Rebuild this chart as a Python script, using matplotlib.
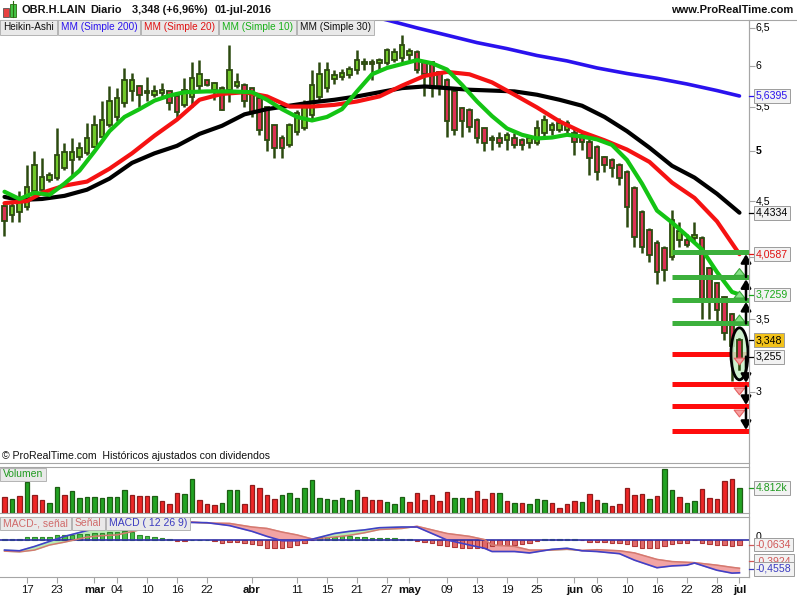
import numpy as np
import matplotlib
matplotlib.use("Agg")
import matplotlib.pyplot as plt
from matplotlib.patches import Rectangle, Ellipse
from matplotlib.lines import Line2D
from matplotlib.ticker import FixedLocator, NullLocator, NullFormatter
import matplotlib.transforms as mtransforms

plt.rcParams['font.family'] = ['Liberation Sans', 'DejaVu Sans']

# ---------------- data ----------------
# trading-day index: 0 = 17-feb-2016 ... 95 = 01-jul-2016
day_index = list(range(-3, 96))

ha_open = [4.45,4.37,4.40,4.44,4.60,4.61,4.71,4.73,4.83,4.91,
           4.94,4.98,5.05,5.16,5.29,5.38,5.54,5.68,5.74,5.69,
           5.64,5.66,5.68,5.62,5.52,5.61,5.74,5.82,5.70,5.72,
           5.70,5.74,5.76,5.72,5.60,5.49,5.29,5.15,5.07,5.21,
           5.26,5.40,5.61,5.72,5.83,5.86,5.88,5.94,6.02,6.05,
           6.03,6.03,6.07,6.10,6.13,6.18,6.05,6.04,5.92,5.82,
           5.68,5.48,5.46,5.35,5.25,5.12,5.15,5.12,5.15,5.12,
           5.09,5.09,5.20,5.23,5.23,5.23,5.20,5.18,5.10,5.05,
           4.94,4.91,4.86,4.79,4.63,4.40,4.23,4.12,4.07,4.00,
           4.14,4.14,4.16,4.16,3.90,3.78,3.67,3.54,3.35]
ha_high = [4.49,4.49,4.60,4.86,5.00,4.93,4.79,5.25,5.09,5.15,
           5.10,5.31,5.40,5.56,5.74,5.72,5.97,5.91,5.76,5.86,
           5.76,5.78,5.68,5.64,5.84,6.05,6.07,5.82,5.80,5.75,
           6.27,5.91,5.78,5.72,5.60,5.49,5.29,5.18,5.31,5.46,
           5.58,5.94,6.05,6.05,5.95,5.96,6.00,6.20,6.10,6.08,
           6.10,6.23,6.23,6.40,6.23,6.20,6.07,6.05,5.93,5.84,
           5.70,5.49,5.48,5.37,5.26,5.18,5.21,5.21,5.20,5.15,
           5.18,5.35,5.40,5.32,5.37,5.35,5.26,5.22,5.13,5.07,
           4.95,4.93,4.88,4.81,4.65,4.42,4.25,4.14,4.09,4.42,
           4.30,4.20,4.30,4.18,3.91,3.79,3.68,3.55,3.36]
ha_low = [4.18,4.30,4.30,4.42,4.54,4.59,4.69,4.71,4.81,4.74,
          4.91,4.96,5.05,5.16,5.27,5.33,5.50,5.56,5.50,5.56,
          5.61,5.61,5.46,5.36,5.50,5.50,5.70,5.74,5.58,5.46,
          5.55,5.72,5.50,5.38,5.18,5.00,4.93,4.93,5.05,5.18,
          5.23,5.35,5.58,5.67,5.77,5.82,5.85,5.90,5.95,5.82,
          5.94,6.01,6.05,6.05,6.07,5.91,5.62,5.61,5.64,5.16,
          5.18,5.16,5.21,5.09,5.00,5.02,5.05,5.02,5.04,5.02,
          5.04,5.07,5.16,5.18,5.21,5.18,4.96,5.02,4.76,4.71,
          4.79,4.74,4.66,4.26,4.08,4.03,3.95,3.77,3.80,3.97,
          4.08,4.08,4.12,3.50,3.50,3.48,3.35,3.07,3.15]
ha_close = [4.31,4.45,4.49,4.64,4.86,4.74,4.76,4.96,4.99,4.99,
            5.04,5.14,5.29,5.35,5.56,5.60,5.82,5.82,5.64,5.66,
            5.68,5.70,5.54,5.44,5.70,5.84,5.90,5.76,5.78,5.46,
            5.94,5.80,5.56,5.42,5.23,5.12,5.04,5.04,5.29,5.42,
            5.52,5.76,5.90,5.95,5.88,5.91,5.96,6.07,6.05,6.02,
            6.07,6.20,6.18,6.27,6.19,5.94,5.90,5.72,5.74,5.33,
            5.23,5.33,5.27,5.14,5.09,5.15,5.09,5.18,5.07,5.07,
            5.14,5.25,5.35,5.29,5.31,5.31,5.10,5.10,4.93,4.79,
            4.86,4.83,4.73,4.44,4.17,4.08,4.01,3.87,3.89,4.32,
            4.22,4.10,4.19,3.64,3.64,3.57,3.40,3.31,3.21]

ma10_idx = [-3,-1,1,3,5,7,9,11,13,15,17,19,21,24,27,30,32,34,36,38,40,42,44,46,48,
            50,52,54,56,58,60,62,64,66,68,70,72,74,76,78,80,82,84,86,88,90,92,94,95]
ma10_val = [4.59,4.52,4.58,4.56,4.67,4.80,5.00,5.22,5.38,5.47,5.57,5.63,5.67,5.68,5.68,
            5.67,5.58,5.47,5.38,5.34,5.38,5.47,5.68,5.89,5.97,6.02,6.07,6.03,5.95,5.76,
            5.56,5.39,5.25,5.18,5.14,5.15,5.18,5.16,5.13,5.07,4.91,4.67,4.41,4.30,4.18,
            4.06,3.87,3.71,3.69]
ma20_idx = [-3,0,2,5,8,11,14,17,20,23,26,29,32,35,38,41,44,47,50,53,56,59,62,65,68,
            71,74,77,80,83,86,89,92,95]
ma20_val = [4.48,4.50,4.58,4.65,4.69,4.82,4.98,5.17,5.35,5.58,5.65,5.67,5.62,5.50,5.50,
            5.52,5.56,5.62,5.75,5.87,5.92,5.89,5.79,5.64,5.49,5.33,5.21,5.12,5.02,4.89,
            4.68,4.53,4.31,4.02]
ma30_idx = [-3,-1,2,5,8,11,14,17,20,23,26,29,32,35,38,41,44,47,50,53,56,59,62,65,68,
            71,74,77,80,83,86,89,92,95]
ma30_val = [4.54,4.51,4.52,4.55,4.61,4.72,4.88,4.98,5.06,5.19,5.28,5.41,5.47,5.51,5.55,
            5.58,5.62,5.67,5.72,5.74,5.72,5.70,5.69,5.68,5.64,5.58,5.51,5.38,5.22,5.04,
            4.85,4.73,4.57,4.39]
ma200_idx = [40,44,48,52,56,60,64,68,72,76,80,84,88,92,95]
ma200_val = [6.83,6.71,6.61,6.50,6.40,6.30,6.22,6.13,6.06,5.97,5.90,5.84,5.77,5.69,5.625]

green_levels = [4.04, 3.83, 3.65, 3.47]
red_levels = [3.25, 3.05, 2.91, 2.76]
levels_start = 85.95

volume_k = [3.02,2.64,3.27,5.91,3.47,2.44,1.87,4.95,3.47,4.18,
            2.83,3.02,3.02,2.89,3.02,3.02,4.37,3.47,3.27,3.27,
            3.27,2.31,1.73,3.79,3.66,6.49,2.44,1.73,1.54,1.98,
            4.37,4.37,1.73,5.39,4.75,3.47,2.64,3.47,3.79,2.89,
            4.75,6.29,2.83,2.64,2.50,2.83,2.44,4.37,3.14,2.44,
            2.44,2.06,1.73,3.02,2.18,3.79,2.50,3.47,2.31,3.98,
            2.83,2.83,2.83,4.24,2.64,3.91,3.91,2.31,1.93,1.93,
            1.73,2.64,2.50,1.98,0.90,1.73,2.31,2.12,3.66,2.50,
            1.98,1.35,1.73,4.75,3.47,3.66,2.64,3.27,8.41,4.43,
            3.02,1.87,2.31,4.56,2.83,2.64,6.16,6.54,4.812]
volume_up = [0,1,0,1,0,0,1,1,0,1,
             1,1,1,1,1,1,1,0,0,0,
             1,0,0,0,1,1,0,0,0,1,
             1,1,0,0,0,0,0,1,1,1,
             1,1,1,1,1,1,1,1,0,0,
             0,1,1,1,0,0,0,0,0,0,
             1,1,0,0,0,0,1,0,1,0,
             1,1,1,0,0,0,0,1,0,0,
             1,0,0,0,0,0,1,0,1,1,
             0,1,1,0,0,0,0,0,1]

macd_hist = [0.014,0.014,0.014,0.042,0.046,0.046,0.046,0.070,0.074,0.074,
             0.078,0.088,0.093,0.102,0.111,0.116,0.125,0.111,0.074,0.051,
             0.037,0.024,0.014,-0.009,-0.009,0.002,0.002,0.005,-0.009,-0.037,
             -0.027,-0.027,-0.037,-0.056,-0.070,-0.107,-0.116,-0.116,-0.102,-0.074,
             -0.046,-0.005,0.037,0.042,0.046,0.051,0.051,0.046,0.037,0.027,
             0.024,0.024,0.027,0.020,0.015,-0.010,-0.025,-0.045,-0.070,-0.090,
             -0.095,-0.105,-0.115,-0.115,-0.115,-0.085,-0.070,-0.070,-0.070,-0.055,
             -0.040,-0.020,0.010,0.015,0.015,0.015,0.010,-0.005,-0.025,-0.025,
             -0.025,-0.040,-0.040,-0.055,-0.090,-0.105,-0.115,-0.115,-0.090,-0.055,
             -0.040,-0.040,-0.005,-0.040,-0.055,-0.070,-0.075,-0.080,-0.0634]
macd_idx = [-3,-1,1,3,5,8,10,12,15,18,21,24,27,30,32,34,36,38,41,43,45,47,50,52,54,
            56,59,61,62,65,67,70,72,74,76,79,81,84,86,88,89,92,94,95]
macd_line = [-0.14,-0.15,-0.09,-0.02,0.05,0.13,0.17,0.19,0.22,0.24,0.245,0.24,0.20,0.12,
             0.05,-0.01,-0.01,0.01,0.09,0.12,0.14,0.17,0.18,0.18,0.09,0.0,-0.07,-0.115,
             -0.16,-0.16,-0.18,-0.13,-0.115,-0.15,-0.16,-0.19,-0.28,-0.385,-0.36,-0.35,
             -0.32,-0.42,-0.46,-0.4558]
macd_signal = [-0.155,-0.165,-0.14,-0.07,-0.03,0.04,0.06,0.07,0.14,0.215,0.255,0.235,0.23,
               0.18,0.16,0.11,0.07,0.015,0.04,0.065,0.10,0.145,0.16,0.19,0.14,0.09,0.05,
               0.005,-0.07,-0.09,-0.14,-0.14,-0.13,-0.145,-0.135,-0.15,-0.18,-0.27,-0.30,
               -0.31,-0.315,-0.35,-0.38,-0.3924]

date_tick_idx = [0,4,9,12,16,20,24,30,36,40,44,48,51,56,60,64,68,73,76,80,84,88,92,95]
date_tick_lbl = ['17','23','mar','04','10','16','22','abr','11','15','21','27','may',
                 '09','13','19','25','jun','06','10','16','22','28','jul']
month_names = ['mar','abr','may','jun','jul']

price_ticks = [3, 3.5, 4, 4.5, 5, 5.5, 6, 6.5]
last_close = 3.348
last_change_pct = 6.96

# ---------------- figure ----------------
W, H, DPI = 797, 596, 100
fig = plt.figure(figsize=(W / DPI, H / DPI), dpi=DPI)
fig.patch.set_facecolor('white')

def fx(x):
    return x / W

def fy(y):
    return 1 - y / H

GRAY = '#a6a6a6'
AXR = 749
XMIN, XMAX = -3.6, 96.27

ax = fig.add_axes([0, fy(463), fx(AXR), (463 - 20) / H])
axv = fig.add_axes([0, fy(513), fx(AXR), (513 - 467) / H])
axm = fig.add_axes([0, fy(577), fx(AXR), (577 - 517) / H])

for a in (ax, axv, axm):
    a.set_xlim(XMIN, XMAX)
    a.set_facecolor('white')
    a.spines['left'].set_visible(False)
    for s in ('right', 'bottom', 'top'):
        a.spines[s].set_color(GRAY)
        a.spines[s].set_linewidth(0.8)
    a.set_xticks([])
    a.tick_params(axis='y', which='both', left=False, right=False,
                  labelleft=False, labelright=False)
ax.spines['top'].set_visible(False)

# ---- price panel ----
ax.set_yscale('log')
ax.set_ylim(2.58, 6.61)
ax.yaxis.set_major_locator(FixedLocator(price_ticks))
ax.yaxis.set_minor_locator(NullLocator())
ax.yaxis.set_major_formatter(NullFormatter())
ax.yaxis.set_minor_formatter(NullFormatter())
ax.tick_params(axis='y', which='major', right=True, direction='out', length=4,
               color=GRAY, width=0.8)

WICK = '#2c4a10'
UPC = '#72c92a'
DNC = '#dc3154'
bw = 0.66
for i, o, h, l, c in zip(day_index, ha_open, ha_high, ha_low, ha_close):
    ax.plot([i, i], [l, h], color=WICK, lw=1.8, zorder=2, solid_capstyle='butt')
    lo, hi = min(o, c), max(o, c)
    ax.add_patch(Rectangle((i - bw / 2, lo), bw, max(hi - lo, 0.004),
                           facecolor=UPC if c >= o else DNC, edgecolor=WICK,
                           lw=1.3, zorder=3))

ax.plot(ma200_idx, ma200_val, color='#2a12ee', lw=2.6, zorder=4, solid_capstyle='round')
ax.plot(ma30_idx, ma30_val, color='black', lw=3.0, zorder=4, solid_capstyle='round')
ax.plot(ma20_idx, ma20_val, color='#f51212', lw=3.0, zorder=4, solid_capstyle='round')
ax.plot(ma10_idx, ma10_val, color='#14c414', lw=3.0, zorder=4, solid_capstyle='round')

for lv in green_levels:
    ax.plot([levels_start, XMAX], [lv, lv], color='#3cb03c', lw=3.6, zorder=5,
            solid_capstyle='butt')
for lv in red_levels:
    ax.plot([levels_start, XMAX], [lv, lv], color='#ff0c0c', lw=3.6, zorder=5,
            solid_capstyle='butt')

# highlight ellipse around the last candle
last_i = day_index[-1]
mid = np.sqrt(ha_high[-1] * ha_low[-1])
ell_tr = fig.dpi_scale_trans + mtransforms.ScaledTranslation(last_i, mid, ax.transData)
ax.add_patch(Ellipse((0, 0), 0.17, 0.52, transform=ell_tr, facecolor='#c6eec6',
                     alpha=0.85, edgecolor='none', zorder=6))
ax.add_patch(Ellipse((0, 0), 0.17, 0.52, transform=ell_tr, facecolor='none',
                     edgecolor='black', lw=2.0, zorder=8))
o, h, l, c = ha_open[-1], ha_high[-1], ha_low[-1], ha_close[-1]
ax.plot([last_i, last_i], [l, h], color=WICK, lw=1.8, zorder=7)
ax.add_patch(Rectangle((last_i - bw / 2, min(o, c)), bw, abs(c - o),
                       facecolor=UPC if c >= o else DNC, edgecolor=WICK, lw=1.3, zorder=7))

# small signal arrows
for lv in green_levels[1:]:
    ax.annotate('', xy=(last_i, lv * 1.024), xytext=(last_i, lv * 1.003),
                arrowprops=dict(arrowstyle='simple,head_length=0.7,head_width=1.1,tail_width=0.45',
                                fc='#86e486', ec='#3aa83a', lw=0.8, mutation_scale=7),
                zorder=9)
for lv in red_levels[:3]:
    ax.annotate('', xy=(last_i, lv * 0.972), xytext=(last_i, lv * 0.993),
                arrowprops=dict(arrowstyle='simple,head_length=0.7,head_width=1.1,tail_width=0.45',
                                fc='#f6a0a0', ec='#e46060', lw=0.8, mutation_scale=7),
                zorder=9)
arr_x = 95.87
for a_lv, b_lv in zip(green_levels[1:], green_levels[:-1]):
    ax.annotate('', xy=(arr_x, b_lv * 0.995), xytext=(arr_x, a_lv * 1.0),
                arrowprops=dict(arrowstyle='-|>,head_length=0.5,head_width=0.3',
                                color='black', lw=1.8, mutation_scale=10, shrinkA=0, shrinkB=0),
                zorder=9)
for a_lv, b_lv in zip(red_levels[:-1], red_levels[1:]):
    ax.annotate('', xy=(arr_x, b_lv * 1.003), xytext=(arr_x, a_lv * 0.995),
                arrowprops=dict(arrowstyle='-|>,head_length=0.5,head_width=0.3',
                                color='black', lw=1.8, mutation_scale=10, shrinkA=0, shrinkB=0),
                zorder=9)

# ---- volume panel ----
axv.set_ylim(0, 8.86)
axv.bar(day_index, volume_k, width=0.64,
        color=['#22a322' if u else '#ee2626' for u in volume_up],
        edgecolor=['#1d5e14' if u else '#8e1c1c' for u in volume_up], linewidth=0.9,
        zorder=2)

# ---- MACD panel ----
axm.set_ylim(-0.514, 0.319)
axm.bar(day_index, macd_hist, width=0.64,
        color=['#48c048' if v >= 0 else '#e06a6a' for v in macd_hist],
        edgecolor=['#2d8a2d' if v >= 0 else '#b03838' for v in macd_hist],
        linewidth=0.8, zorder=2)
mx = np.array(macd_idx, dtype=float)
ml = np.array(macd_line)
ms = np.array(macd_signal)
axm.fill_between(mx, ml, ms, where=ml >= ms, interpolate=True, color='#b9ecb4', zorder=1)
axm.fill_between(mx, ml, ms, where=ml < ms, interpolate=True, color='#f2a4a4', zorder=1)
axm.axhline(0, color='#3030a8', lw=1.2, zorder=3)
axm.plot(mx, ms, color='#d47a70', lw=1.1, zorder=4)
axm.plot(mx, ml, color='#4040c8', lw=1.2, zorder=4)

axm.set_xticks(date_tick_idx)
axm.tick_params(axis='x', direction='out', length=4, color=GRAY, width=0.8,
                labelbottom=False)
xtr = mtransforms.blended_transform_factory(axm.transData, fig.transFigure)
for xi, lb in zip(date_tick_idx, date_tick_lbl):
    fig.text(xi, fy(590), lb, transform=xtr, ha='center', va='center', fontsize=8.2,
             fontweight='bold' if lb in month_names else 'normal', color='#111111')

# ---- frame lines ----
fig.add_artist(Line2D([0, 1], [fy(19.5), fy(19.5)], transform=fig.transFigure,
                      color=GRAY, lw=0.8))
fig.add_artist(Line2D([fx(AXR), fx(AXR)], [fy(20), fy(577)], transform=fig.transFigure,
                      color=GRAY, lw=0.8))

# ---- right-hand labels ----
def right_text(axis, val, txt, color='black', box=None, weight='normal', dy=0, tick=True):
    tr = mtransforms.blended_transform_factory(fig.transFigure, axis.transData)
    tr = mtransforms.offset_copy(tr, fig=fig, x=0, y=dy, units='dots')
    kw = {}
    if box is not None:
        kw['bbox'] = dict(boxstyle='square,pad=0.18', fc=box, ec='#9c9c9c', lw=0.7)
    fig.text(fx(756), val, txt, transform=tr, ha='left', va='center', fontsize=7.6,
             color=color, fontweight=weight, **kw)
    if tick and box is not None:
        fig.add_artist(Line2D([fx(AXR), fx(754)], [val, val], transform=tr, color=color,
                              lw=0.9))

def comma(v):
    return ('%g' % v).replace('.', ',')

for t in price_ticks:
    right_text(ax, t, comma(t), weight='bold' if t == 5 else 'normal')
right_text(ax, ma200_val[-1], '5,6395', color='#2a12ee', box='#f2f2f2')
right_text(ax, ma30_val[-1], '4,4334', color='black', box='#f2f2f2')
right_text(ax, ma20_val[-1], '4,0587', color='#e01010', box='#f2f2f2')
right_text(ax, ma10_val[-1], '3,7259', color='#18a818', box='#f2f2f2')
right_text(ax, last_close, comma(last_close), color='black', box='#f2c21a')
right_text(ax, red_levels[0] * 0.995, '3,255', color='black', box='#f2f2f2')

right_text(axv, volume_k[-1], '4.812k', color='#1f9a1f', box='#f2f2f2')

right_text(axm, 0.0, '0', color='black', dy=3)
right_text(axm, macd_hist[-1], '-0,0634', color='#d05858', box='#f2f2f2')
right_text(axm, macd_signal[-1], '-0,3924', color='#d05858', box='#f2f2f2', dy=7)
right_text(axm, macd_line[-1], '-0,4558', color='#3a3ac0', box='#f2f2f2', dy=4)

# ---- header ----
fig.add_artist(Rectangle((fx(3), fy(17)), fx(6), 9 / H, transform=fig.transFigure,
                         fc='#e84040', ec='#555555', lw=0.6))
fig.add_artist(Rectangle((fx(10), fy(17)), fx(6), 13 / H, transform=fig.transFigure,
                         fc='#44c444', ec='#2c6a10', lw=0.6))
fig.add_artist(Line2D([fx(13), fx(13)], [fy(17), fy(1)], transform=fig.transFigure,
                      color='#2c6a10', lw=0.8))
hdr = [(22, 'OBR.H.LAIN'), (90, 'Diario'),
       (132, '%s (+%s%%)' % (comma(last_close), comma(last_change_pct))),
       (215, '01-jul-2016')]
for x, s in hdr:
    fig.text(fx(x), fy(10), s, ha='left', va='center', fontsize=7.9, fontweight='bold',
             color='#111111')
fig.text(fx(793), fy(10), 'www.ProRealTime.com', ha='right', va='center', fontsize=8,
         fontweight='bold', color='#111111')

renderer = fig.canvas.get_renderer()

def label_row(items, x0, ycen, h, fs=7.5):
    x = x0
    for txt, col in items:
        t = fig.text(fx(x + 3), fy(ycen), txt, ha='left', va='center', fontsize=fs,
                     color=col, zorder=6)
        bb = t.get_window_extent(renderer)
        w = bb.width
        fig.add_artist(Rectangle((fx(x), fy(ycen + h / 2)), fx(w + 6), h / H,
                                 transform=fig.transFigure, fc='#e9e9e9', ec='#b4b4b4',
                                 lw=0.7, zorder=5))
        x += w + 7

label_row([('Heikin-Ashi', '#111111'), ('MM (Simple 200)', '#2a12ee'),
           ('MM (Simple 20)', '#e01010'), ('MM (Simple 10)', '#18b018'),
           ('MM (Simple 30)', '#111111')], 0, 27.5, 14, fs=7.2)
label_row([('Volumen', '#1f9a1f')], 0, 474, 13)
label_row([('MACD-, señal', '#d06a6a'), ('Señal', '#d06a6a'),
           ('MACD ( 12 26 9)', '#3a3ac0')], 0, 523.5, 13)

fig.text(fx(2), fy(456), '© ProRealTime.com  Históricos ajustados con dividendos',
         ha='left', va='center', fontsize=7.6, color='#111111')

fig.savefig('out.png', dpi=DPI, facecolor='white')
